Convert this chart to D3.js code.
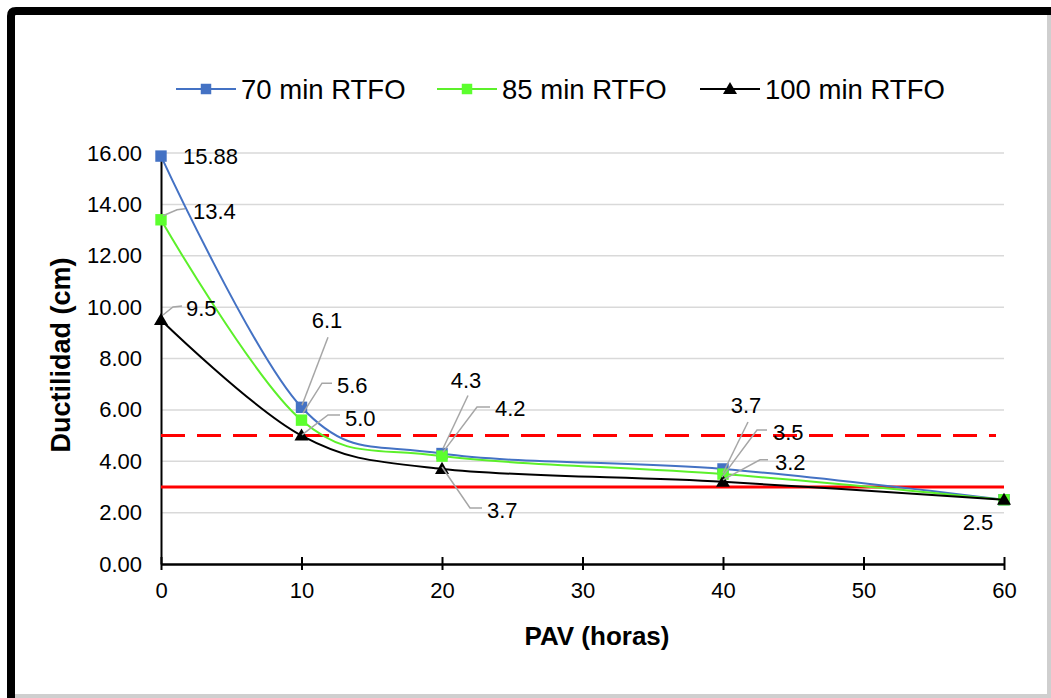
<!DOCTYPE html>
<html>
<head>
<meta charset="utf-8">
<script src="https://cdn.jsdelivr.net/npm/d3@7"></script>
<style>
  body { margin: 0; background: #fff; }
  text { font-family: "Liberation Sans", Arial, sans-serif; fill: #000; }
</style>
</head>
<body>
<script>
// data
var pavHours = [0, 10, 20, 40, 60];
var rtfo70 = [15.88, 6.1, 4.3, 3.7, 2.5];
var rtfo85 = [13.4, 5.6, 4.2, 3.5, 2.5];
var rtfo100 = [9.5, 5.0, 3.7, 3.2, 2.5];
var seriesNames = ["70 min RTFO", "85 min RTFO", "100 min RTFO"];
var xTicks = [0, 10, 20, 30, 40, 50, 60];
var yTicks = [0, 2, 4, 6, 8, 10, 12, 14, 16];
var limitDashed = 5.0;
var limitSolid = 3.0;

var svgWidth = 1051;
var svgHeight = 698;

var margin = { top: 153, right: 47, bottom: 134, left: 161 };
var chartWidth = svgWidth - margin.left - margin.right;
var chartHeight = svgHeight - margin.top - margin.bottom;

var svg = d3.select("body")
    .append("svg")
    .attr("width", svgWidth)
    .attr("height", svgHeight);

// frame round the picture
svg.append("rect").attr("x", 1047).attr("y", 7).attr("width", 4).attr("height", 691).attr("fill", "#cfcfcf");
svg.append("rect").attr("x", 7).attr("y", 694).attr("width", 1044).attr("height", 4).attr("fill", "#cfcfcf");
svg.append("path")
    .attr("d", "M11,698 L11,16 Q11,11 16,11 L1051,11")
    .attr("fill", "none")
    .attr("stroke", "#000")
    .attr("stroke-width", 8);

var chartGroup = svg.append("g")
    .attr("transform", `translate(${margin.left},${margin.top})`);

var xScale = d3.scaleLinear().domain([0, 60]).range([0, chartWidth]);
var yScale = d3.scaleLinear().domain([0, 16]).range([chartHeight, 0]);

// gridlines
chartGroup.append("g")
    .selectAll("line")
    .data(yTicks.slice(1))
    .enter()
    .append("line")
    .attr("x1", 0)
    .attr("x2", chartWidth)
    .attr("y1", d => yScale(d))
    .attr("y2", d => yScale(d))
    .attr("stroke", "#d9d9d9")
    .attr("stroke-width", 1.5);

// y axis (line + labels only)
var leftAxis = d3.axisLeft(yScale).tickValues(yTicks).tickFormat(d3.format(".2f")).tickSize(0).tickPadding(19);
var yAxisGroup = chartGroup.append("g").call(leftAxis);
yAxisGroup.select(".domain").attr("stroke", "#000").attr("stroke-width", 2);
yAxisGroup.selectAll("text").attr("font-size", 22).attr("font-family", "Liberation Sans, Arial, sans-serif").attr("fill", "#000");

// x axis with crossing ticks
var bottomAxis = d3.axisBottom(xScale).tickValues(xTicks).tickSizeInner(6).tickSizeOuter(0).tickPadding(12);
var xAxisGroup = chartGroup.append("g")
    .attr("transform", `translate(0, ${chartHeight})`)
    .call(bottomAxis);
xAxisGroup.select(".domain").attr("stroke", "#000").attr("stroke-width", 2.5);
xAxisGroup.selectAll(".tick line").attr("y1", -7).attr("y2", 6).attr("stroke", "#000").attr("stroke-width", 2);
xAxisGroup.selectAll("text").attr("font-size", 22).attr("font-family", "Liberation Sans, Arial, sans-serif").attr("fill", "#000");

// limit lines
chartGroup.append("line")
    .attr("x1", 0).attr("x2", chartWidth - 8)
    .attr("y1", yScale(limitDashed)).attr("y2", yScale(limitDashed))
    .attr("stroke", "#ff0000").attr("stroke-width", 3)
    .attr("stroke-dasharray", "24,12");
chartGroup.append("line")
    .attr("x1", 0).attr("x2", chartWidth)
    .attr("y1", yScale(limitSolid)).attr("y2", yScale(limitSolid))
    .attr("stroke", "#ff0000").attr("stroke-width", 3);

// series
var seriesColors = ["#4472c4", "#5cf02a", "#000000"];
var markerColors = ["#4472c4", "#5cff2e", "#000000"];
var seriesShapes = [d3.symbolSquare, d3.symbolSquare, d3.symbolTriangle];
var seriesValues = [rtfo70, rtfo85, rtfo100];

// label offsets from the point: text anchor [dx, dy], leader polyline
var labelOffsets = [
  [
    { t: [22, 0], anchor: "start" },
    { t: [25.5, -87], anchor: "middle", lead: [[0.5, -2], [26.5, -70]] },
    { t: [24, -73.5], anchor: "middle", lead: [[1, -5], [26, -58]] },
    { t: [23, -64], anchor: "middle", lead: [[0, 4], [25, -47]] },
    null
  ],
  [
    { t: [32, -8], anchor: "start", lead: [[2, -4], [16, -10], [24, -11]] },
    { t: [35.5, -35], anchor: "start", lead: [[1.5, -7], [20.5, -37], [30.5, -37]] },
    { t: [53, -48], anchor: "start", lead: [[1, -4], [35, -49], [48, -49]] },
    { t: [50, -42], anchor: "start", lead: [[-1, 3], [34, -44], [44, -44]] },
    null
  ],
  [
    { t: [25, -12], anchor: "start", lead: [[2, -5], [12, -13], [21, -14]] },
    { t: [43.5, -17.6], anchor: "start", lead: [[0.5, -0.6], [26.5, -20.6], [38.5, -20.6]] },
    { t: [45, 41], anchor: "start", lead: [[0, -2], [28, 39], [40, 39]] },
    { t: [52, -20], anchor: "start", lead: [[0, -2], [37, -22], [45, -22]] },
    { t: [-26, 23], anchor: "middle" }
  ]
];

var line = d3.line()
    .x(d => xScale(d[0]))
    .y(d => yScale(d[1]))
    .curve(d3.curveCardinal.tension(0));

seriesValues.forEach((vals, s) => {
  var pts = pavHours.map((h, i) => [h, vals[i]]);
  chartGroup.append("path")
      .datum(pts)
      .attr("d", line)
      .attr("fill", "none")
      .attr("stroke", seriesColors[s])
      .attr("stroke-width", 2);
  chartGroup.selectAll(".m" + s)
      .data(pts)
      .enter()
      .append("path")
      .attr("class", "m" + s)
      .attr("d", d3.symbol().type(seriesShapes[s]).size(s == 2 ? 85 : 130))
      .attr("transform", d => `translate(${xScale(d[0])},${yScale(d[1]) + (s == 2 ? 1 : 0)})`)
      .attr("fill", markerColors[s]);
});

// data labels
var labelFormat = v => (v % 1 === 0 ? v.toFixed(1) : String(v));
var labelGroup = chartGroup.append("g");
seriesValues.forEach((vals, s) => {
  vals.forEach((v, i) => {
    var off = labelOffsets[s][i];
    if (!off) return;
    var px = xScale(pavHours[i]);
    var py = yScale(v);
    if (off.lead) {
      labelGroup.append("polyline")
          .attr("points", off.lead.map(p => `${px + p[0]},${py + p[1]}`).join(" "))
          .attr("fill", "none")
          .attr("stroke", "#a6a6a6")
          .attr("stroke-width", 1.5);
    }
    labelGroup.append("text")
        .attr("x", px + off.t[0])
        .attr("y", py + off.t[1])
        .attr("dy", "0.35em")
        .attr("text-anchor", off.anchor)
        .attr("font-size", 22)
        .text(labelFormat(v));
  });
});

// axis titles
svg.append("text")
    .attr("x", 597)
    .attr("y", 645)
    .attr("text-anchor", "middle")
    .attr("font-size", 26)
    .attr("font-weight", "bold")
    .text("PAV (horas)");

svg.append("text")
    .attr("transform", "translate(70, 355) rotate(-90)")
    .attr("text-anchor", "middle")
    .attr("font-size", 27)
    .attr("font-weight", "bold")
    .text("Ductilidad (cm)");

// legend
var legendX = [176, 437, 700];
var legendGroup = svg.append("g").attr("transform", "translate(0, 89)");
seriesNames.forEach((name, s) => {
  var g = legendGroup.append("g").attr("transform", `translate(${legendX[s]}, 0)`);
  g.append("line").attr("x1", 0).attr("x2", 60).attr("y1", 0).attr("y2", 0)
      .attr("stroke", seriesColors[s]).attr("stroke-width", 2);
  g.append("path")
      .attr("d", d3.symbol().type(seriesShapes[s]).size(s == 2 ? 85 : 110))
      .attr("transform", `translate(30, ${s == 2 ? 1 : 0})`)
      .attr("fill", markerColors[s]);
  g.append("text")
      .attr("x", 65)
      .attr("y", 0)
      .attr("dy", "0.35em")
      .attr("font-size", 27.5)
      .text(name);
});
</script>
</body>
</html>
